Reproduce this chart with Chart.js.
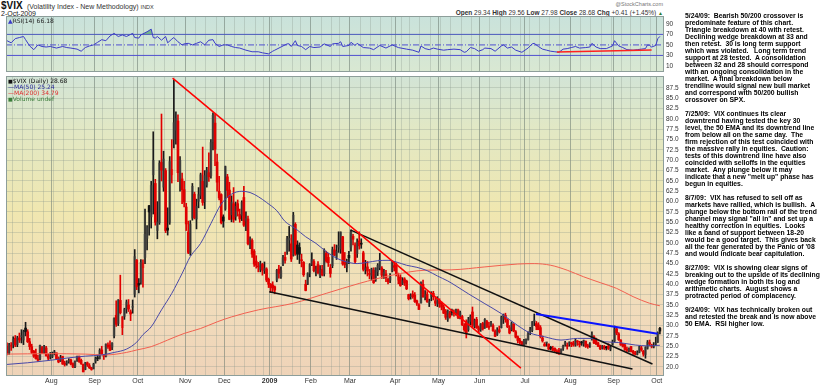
<!DOCTYPE html>
<html>
<head>
<meta charset="utf-8">
<script src="https://cdn.jsdelivr.net/npm/chart.js@4.4.1/dist/chart.umd.min.js"></script>
<style>
  body { margin: 0; background: #fff; font-family: "Liberation Sans", Arial, sans-serif; }
  #wrap { position: relative; width: 820px; height: 386px; overflow: hidden; }
  canvas { position: absolute; left: 0; }
  #rsiCanvas { top: 16px; }
  #priceCanvas { top: 76px; }
  .t { position: absolute; white-space: nowrap; color: #111; line-height: 1; }
  .leg { position: absolute; font-family: "DejaVu Sans", sans-serif; font-size: 6px; line-height: 6px; white-space: nowrap; z-index: 2; }
  #notes { position: absolute; left: 685px; top: 12px; font-weight: bold; font-size: 6.8px; line-height: 7px; white-space: pre; color: #000; }
</style>
</head>
<body>
<div id="wrap">
  <div class="t" style="left:1px;top:1px;font-size:10px;font-weight:bold">$VIX</div>
  <div class="t" style="left:27px;top:2.5px;font-size:7px;color:#333">(Volatility Index - New Methodology) <span style="font-size:5.5px">INDX</span></div>
  <div class="t" style="left:1px;top:10px;font-size:7px;color:#222">2-Oct-2009</div>
  <div class="t" style="right:157px;top:2px;font-size:5.5px;color:#777">@StockCharts.com</div>
  <div class="t" style="right:157px;top:9.5px;font-size:6.5px;color:#333"><b>Open</b> 29.34 <b>High</b> 29.56 <b>Low</b> 27.98 <b>Close</b> 28.68 <b>Chg</b> +0.41 (+1.45%) <span style="font-size:5px;color:#2a7a2a">&#9650;</span></div>

  <canvas id="rsiCanvas" width="690" height="56"></canvas>
  <canvas id="priceCanvas" width="690" height="310"></canvas>

  <div class="leg" style="left:8px;top:18px;color:#222"><span style="color:#3a3ac8">&#9650;</span>RSI(14) 66.18</div>
  <div class="leg" style="left:8px;top:78px">
    <div style="color:#111"><span style="font-size:5px">&#9632;</span>$VIX (Daily) 28.68</div>
    <div style="color:#2b2b9a">&#8212;MA(50) 25.24</div>
    <div style="color:#e03030">&#8212;MA(200) 34.79</div>
    <div style="color:#3b7d3b"><span style="font-size:5px">&#9632;</span>Volume undef</div>
  </div>

  <div id="notes">5/24/09:  Bearish 50/200 crossover is
predominate feature of this chart.
Triangle breakdown at 40 with retest.
Declining wedge breakdown at 33 and
then retest.  30 is long term support
which was violated.   Long term trend
support at 28 tested.  A consolidation
between 32 and 28 should correspond
with an ongoing consolidation in the
market.  A final breakdown below
trendline would signal new bull market
and correspond with 50/200 bullish
crossover on SPX.

7/25/09:  VIX continues its clear
downtrend having tested the key 30
level, the 50 EMA and its downtrend line
from below all on the same day.  The
firm rejection of this test coincided with
the massive rally in equities.  Caution:
tests of this downtrend line have also
coincided with selloffs in the equities
market.  Any plunge below it may
indicate that a new "melt up" phase has
begun in equities.

8/7/09:  VIX has refused to sell off as
markets have rallied, which is bullish.  A
plunge below the bottom rail of the trend
channel may signal "all in" and set up a
healthy correction in equities.  Looks
like a band of support between 18-20
would be a good target.  This gives back
all the fear generated by the Panic of '08
and would indicate bear capitulation.

8/27/09:  VIX is showing clear signs of
breaking out to the upside of its declining
wedge formation in both its log and
arithmetic charts.  August shows a
protracted period of complacency.

9/24/09:  VIX has technically broken out
and retested the break and is now above
50 EMA.  RSI higher low.</div>
</div>

<script>
// Daily candles [open, high, low, close], one array per month
const jul08 = [[25.0,25.8,22.9,23.4],[23.4,25.7,23.0,25.3],[25.0,25.9,24.0,25.1],[25.3,27.3,24.6,26.7],[26.9,27.6,24.9,25.3],[25.4,27.4,24.9,27.0],[27.0,28.2,25.9,26.5],[27.3,29.0,25.8,27.5],[26.5,28.9,25.4,28.5],[29.4,30.8,27.5,28.5],[28.5,29.0,25.9,26.1],[26.1,26.9,24.2,24.9],[24.9,25.5,23.2,23.5],[23.8,24.0,22.3,22.6],[23.2,24.3,21.9,22.0],[21.9,22.8,21.3,21.6],[21.9,25.3,21.7,25.2],[24.7,25.0,23.2,23.4],[23.5,25.2,23.2,25.0],[24.6,25.0,22.6,22.7],[22.6,23.1,21.6,22.1],[22.4,23.5,21.9,22.9]];
const aug08 = [[22.5,23.6,22.2,23.1],[23.4,24.0,22.9,23.5],[23.4,23.4,21.8,22.0],[22.0,22.4,21.0,21.2],[21.5,22.8,21.3,22.3],[22.5,22.6,20.6,20.7],[20.9,21.4,20.2,20.6],[20.7,21.5,20.4,21.2],[21.3,22.0,20.9,21.6],[21.7,21.9,20.5,20.7],[20.8,21.0,19.8,20.0],[20.0,21.5,19.8,21.3],[21.6,22.6,21.3,22.5],[22.6,22.6,21.1,21.3],[21.6,21.9,20.6,20.8],[20.6,20.7,18.8,18.8],[19.4,21.1,19.3,21.0],[21.0,21.2,20.1,20.5],[20.3,20.8,19.6,19.8],[19.8,19.9,19.2,19.4],[19.6,20.9,19.5,20.65]];
const sep08 = [[21.4,22.4,20.9,22.0],[22.0,22.8,21.5,22.0],[22.0,24.4,21.9,24.0],[24.1,25.0,23.0,23.1],[22.9,23.0,21.8,22.6],[22.6,25.6,22.4,25.5],[25.3,25.8,24.5,24.9],[25.3,26.3,23.9,24.0],[24.8,25.9,24.2,25.7],[27.5,31.9,27.0,31.7],[32.5,36.0,29.8,30.3],[30.5,36.3,30.0,36.2],[36.1,42.2,32.8,33.1],[29.5,32.2,27.8,32.1],[32.2,34.2,31.5,33.9],[34.0,36.2,33.0,35.7],[35.0,36.3,33.4,34.0],[33.3,33.8,31.2,32.8],[34.4,36.2,33.0,34.7],[37.6,48.4,36.9,46.7],[45.8,46.0,38.7,39.4]];
const oct08 = [[40.2,41.4,37.9,39.8],[40.5,46.0,40.0,45.3],[44.0,45.9,39.3,45.1],[46.5,58.2,45.0,52.1],[51.1,54.2,48.3,53.7],[59.0,59.1,51.9,57.5],[56.3,64.9,53.6,63.9],[66.5,76.9,57.0,70.0],[64.4,65.4,54.3,55.0],[53.0,60.0,51.0,55.1],[54.9,69.9,54.5,69.3],[69.5,81.2,65.0,67.6],[63.5,72.2,62.5,70.3],[67.5,68.0,52.5,53.0],[53.6,58.5,51.9,53.1],[55.0,70.9,54.5,69.7],[66.5,75.0,64.5,67.8],[75.0,89.5,73.0,79.1],[77.3,81.7,73.9,80.1],[79.5,81.0,64.8,67.0],[65.4,70.9,62.5,70.0],[65.5,66.9,59.5,62.9],[62.9,64.9,58.7,59.9]];
const nov08 = [[58.7,59.6,53.0,54.6],[52.6,55.3,47.4,47.7],[47.5,55.4,47.0,54.6],[56.0,64.4,55.5,63.7],[61.8,62.3,55.8,56.1],[55.8,60.6,53.4,58.9],[60.1,63.4,58.5,61.7],[61.5,66.9,60.7,66.5],[64.9,73.2,59.1,59.8],[60.0,67.5,58.3,66.3],[64.0,68.3,63.5,67.6],[67.0,71.8,64.9,66.0],[66.3,75.0,65.7,74.3],[74.5,81.5,72.5,80.9],[79.0,81.1,68.7,72.7],[69.6,71.5,62.5,64.7],[62.5,66.1,60.4,60.9],[61.7,61.9,54.6,54.9],[56.3,56.8,53.8,55.3]];
const dec08 = [[58.2,68.6,57.9,68.5],[66.0,66.6,61.0,62.7],[62.8,64.7,55.6,55.7],[56.8,61.4,55.1,59.9],[59.5,63.4,55.0,55.7],[56.3,59.9,55.5,58.9],[59.5,60.4,56.5,57.7],[56.9,58.2,55.0,55.8],[56.7,60.2,55.4,59.8],[61.0,63.7,54.0,54.3],[55.3,57.5,53.0,56.0],[55.8,56.5,49.5,49.8],[50.7,51.5,48.6,51.0],[50.6,51.0,46.5,47.3],[48.0,48.4,44.3,44.9],[45.6,46.9,43.9,44.6],[44.3,45.3,43.0,44.2],[43.6,45.6,43.0,45.0],[44.8,45.1,42.2,43.4],[43.3,45.4,42.6,43.9],[43.7,44.0,40.6,41.0],[41.2,41.5,39.2,40.0]];
const jan09 = [[40.0,40.2,38.0,39.2],[39.8,40.6,38.2,39.1],[39.4,39.6,37.7,38.6],[41.0,43.6,40.6,43.4],[43.7,44.6,41.5,42.6],[41.8,44.2,41.4,43.3],[44.9,47.0,44.5,46.4],[46.5,47.8,45.1,45.8],[47.9,51.6,47.2,51.0],[50.7,54.0,48.0,51.1],[49.8,52.0,45.5,46.1],[47.0,57.4,46.8,56.7],[54.5,54.9,47.0,47.3],[49.5,50.5,46.0,47.3],[48.9,50.0,45.0,47.3],[45.8,47.3,44.2,45.7],[45.3,45.5,41.9,42.3],[40.0,41.0,38.4,38.5],[40.0,42.8,39.9,42.6],[42.7,45.0,41.8,44.8]];
const feb09 = [[44.8,47.6,44.5,46.0],[45.5,46.0,43.0,43.3],[43.0,44.4,42.0,43.6],[44.8,45.5,42.5,42.8],[42.1,44.5,41.6,43.4],[43.6,44.6,42.0,42.3],[42.5,48.6,42.0,48.3],[47.5,48.0,45.3,45.6],[46.5,47.5,44.3,45.2],[44.0,44.8,41.7,42.6],[44.5,49.0,44.0,48.4],[48.3,49.6,46.9,47.1],[46.5,49.5,46.0,48.0],[49.0,52.7,47.7,49.3],[48.5,52.7,47.5,52.6],[51.5,51.6,44.6,44.9],[45.5,47.7,44.0,44.7],[44.0,46.1,43.0,45.6],[47.0,48.0,45.0,46.4]];
const mar09 = [[49.0,53.2,48.0,52.6],[51.6,52.1,49.5,50.9],[49.5,50.0,45.0,45.5],[47.4,51.0,46.5,50.2],[50.5,52.7,48.5,49.3],[49.8,51.0,48.7,49.7],[47.6,48.0,43.2,43.6],[43.5,45.8,42.5,44.0],[44.2,45.5,42.0,43.2],[42.5,43.6,41.3,42.4],[42.0,43.9,41.0,43.7],[43.4,44.0,40.2,40.4],[41.0,44.0,40.7,43.9],[43.0,45.0,42.1,44.6],[44.0,47.5,43.5,45.9],[43.9,44.3,41.4,42.2],[42.0,43.6,41.4,42.9],[42.5,43.4,40.6,41.6],[41.2,41.5,40.1,40.6],[41.0,42.6,40.4,41.8],[43.2,45.6,43.0,45.5],[44.5,45.5,43.2,44.1]];
const apr09 = [[44.7,45.2,42.0,42.3],[41.0,42.7,40.1,42.0],[41.7,42.3,39.5,39.7],[40.0,41.6,39.9,40.9],[41.3,41.6,39.7,40.4],[40.8,41.0,38.7,38.9],[37.5,37.6,36.2,36.5],[37.0,37.7,36.4,37.1],[37.6,38.4,36.6,37.0],[37.4,38.0,35.6,35.8],[36.0,36.2,34.9,35.4],[35.0,35.3,33.9,33.9],[35.5,40.6,35.4,40.4],[40.0,41.0,36.8,37.0],[37.0,38.5,36.2,37.4],[37.6,38.2,35.6,35.8],[35.5,36.4,34.6,35.8],[37.0,38.2,36.0,37.9],[37.8,38.3,36.2,37.0],[36.0,36.9,34.8,35.4],[35.2,37.0,34.6,36.5]];
const may09 = [[36.0,36.5,34.4,35.3],[35.5,35.7,33.8,34.5],[34.5,35.0,32.9,33.0],[33.5,33.9,31.5,32.0],[31.5,33.8,31.0,33.6],[33.0,33.5,31.8,32.1],[33.6,34.0,32.5,33.2],[33.0,33.8,32.3,33.0],[33.2,34.0,32.5,33.6],[33.8,34.0,31.7,32.0],[32.0,33.5,31.6,33.1],[32.2,32.5,30.0,30.2],[30.0,30.5,28.6,29.0],[31.0,31.4,27.0,28.2],[29.0,32.0,28.6,31.4],[31.0,32.6,30.2,32.2],[33.3,34.5,29.6,30.1],[29.8,31.6,29.4,31.3],[31.5,32.0,29.3,29.5],[29.5,29.9,28.2,28.9]];
const jun09 = [[29.0,30.5,28.6,30.3],[30.5,30.8,28.9,29.2],[29.5,31.7,29.3,31.5],[31.0,31.3,29.5,29.8],[29.6,30.8,29.1,29.6],[30.0,31.0,29.8,30.5],[30.0,30.4,28.6,28.8],[28.6,29.0,27.3,27.4],[27.8,29.5,27.6,28.9],[29.0,29.9,28.2,28.5],[29.5,32.3,29.4,32.0],[31.5,32.8,30.5,32.7],[32.5,33.0,30.8,31.5],[31.4,31.6,29.5,29.7],[29.5,30.0,28.0,28.2],[29.0,30.9,28.7,30.5],[30.3,30.5,28.5,28.7],[28.5,28.8,27.0,27.2],[27.3,27.5,25.8,26.4],[26.5,26.9,25.5,25.9],[26.0,26.2,25.3,25.4],[25.4,26.7,25.2,26.4]];
const jul09 = [[26.0,26.8,25.5,26.4],[26.6,28.5,26.5,28.0],[28.5,29.6,27.8,29.0],[28.8,31.0,28.5,30.9],[31.0,32.8,30.0,31.3],[30.5,31.0,29.0,29.8],[30.2,30.7,29.0,29.0],[29.5,30.0,27.0,27.4],[27.0,27.5,26.0,26.3],[25.5,25.9,25.0,25.1],[25.8,26.0,25.0,25.9],[25.5,25.6,24.2,24.3],[24.7,25.0,24.1,24.4],[24.5,25.0,23.8,24.0],[24.5,24.6,23.6,23.9],[23.8,24.2,23.2,23.4],[24.0,24.5,23.1,23.1],[23.5,24.4,23.3,24.3],[24.5,25.3,24.0,25.0],[25.5,26.2,25.0,25.9],[25.0,25.8,24.3,25.0],[25.5,26.1,25.0,25.9]];
const aug09 = [[25.7,26.0,24.9,25.6],[25.8,26.2,25.0,25.3],[25.3,26.8,25.0,26.4],[26.0,26.4,25.2,26.0],[25.5,26.2,24.8,25.4],[25.8,26.2,25.2,25.8],[25.5,26.5,25.0,26.4],[26.2,26.3,24.7,25.0],[25.0,25.5,24.5,24.9],[25.2,25.9,24.7,25.6],[26.8,28.5,26.5,27.8],[27.3,27.6,25.6,25.8],[26.8,27.0,25.4,25.6],[25.8,26.0,24.9,25.0],[25.1,25.3,24.2,24.4],[24.5,25.2,24.3,25.0],[25.0,25.2,24.2,24.5],[24.6,25.0,24.1,24.6],[25.0,25.6,24.2,24.5],[24.3,25.0,23.9,24.8],[25.5,26.5,25.3,26.0]];
const sep09 = [[26.3,29.9,26.0,29.2],[29.2,29.6,27.8,28.2],[28.0,28.3,26.4,26.6],[26.5,26.6,25.2,25.3],[25.5,25.7,24.8,25.0],[25.3,25.5,24.0,24.2],[24.3,24.8,23.7,24.0],[24.0,24.6,23.6,24.1],[24.9,25.0,23.6,23.7],[23.8,24.0,23.0,23.4],[23.4,23.8,22.9,23.1],[23.0,23.9,22.9,23.5],[23.5,25.0,23.4,24.9],[24.6,25.0,23.8,24.1],[23.8,24.0,22.6,23.1],[23.0,24.9,22.1,24.7],[24.5,26.4,24.3,26.0],[25.9,26.5,25.1,25.6],[25.3,25.5,24.6,25.0],[24.8,25.9,24.6,25.2],[25.5,27.2,25.2,25.6]];
const oct09 = [[26.0,28.5,25.9,28.27],[29.34,29.56,27.98,28.68]];

// Trading calendar (category axis)
const firstDay = '2008-07-01';
const lastDay = '2009-10-02';
const holidays = ['2008-07-04','2008-09-01','2008-11-27','2008-12-25','2009-01-01','2009-01-19','2009-02-16','2009-04-10','2009-05-25','2009-07-03','2009-09-07'];
const monthNames = ['Jan','Feb','Mar','Apr','May','Jun','Jul','Aug','Sep','Oct','Nov','Dec'];

// Overlays: [day index, value]
const ma50 = [[0,20.6],[10,21.0],[21,21.6],[30,22.2],[38,22.6],[46,22.9],[52,23.5],[58,24.3],[63,26.0],[66,27.8],[70,29.7],[75,33.8],[80,37.8],[85,42.6],[89,46.7],[94,49.9],[99,54.7],[104,59.4],[109,61.8],[114,62.5],[118,62.2],[122,61.2],[126,59.8],[131,57.8],[135,55.2],[140,53.5],[145,51.5],[150,49.9],[155,47.9],[160,46.3],[165,45.4],[170,45.0],[175,45.3],[180,45.7],[185,45.8],[189,45.4],[194,44.6],[199,44.1],[204,43.3],[209,42.0],[214,40.8],[218,39.6],[224,37.7],[232,35.3],[240,32.9],[248,30.0],[254,28.2],[261,27.3],[269,26.5],[277,26.9],[284,26.9],[290,26.1],[297,25.9],[305,25.3],[311,25.1],[317,25.24]];
const ma200 = [[0,23.1],[20,23.2],[38,23.1],[48,22.9],[58,23.5],[63,24.1],[70,24.9],[78,26.5],[86,28.1],[94,29.3],[102,30.9],[109,32.1],[122,33.8],[139,35.4],[155,37.8],[171,40.2],[187,42.2],[203,43.4],[216,43.5],[232,44.2],[248,44.9],[256,45.0],[264,44.6],[272,43.4],[280,41.8],[288,40.4],[296,39.0],[304,37.0],[312,35.4],[317,34.79]];
const rsi14 = [[0,58],[2,54],[4,62],[6,64],[8,66],[9,60],[11,48],[13,41],[15,50],[17,47],[19,46],[21,47],[24,44],[27,47],[29,45],[31,44],[34,42],[36,38],[38,45],[40,48],[42,50],[44,55],[46,60],[48,58],[50,67],[52,72],[53,69],[54,66],[56,69],[58,66],[60,70],[61,72],[62,64],[64,63],[65,69],[67,73],[68,75],[70,80],[71,64],[72,63],[73,66],[75,59],[77,66],[78,54],[80,61],[81,64],[83,56],[85,50],[86,52],[88,53],[90,50],[92,53],[94,56],[96,50],[98,59],[100,60],[101,53],[103,47],[105,50],[107,50],[109,47],[111,45],[113,44],[116,40],[119,37],[122,37],[124,35],[127,33],[129,38],[130,40],[133,46],[136,52],[137,52],[138,47],[140,58],[141,49],[143,47],[145,41],[147,47],[149,45],[152,46],[154,52],[157,47],[158,52],[161,53],[162,56],[163,47],[166,49],[167,55],[169,49],[170,53],[173,45],[176,44],[178,41],[181,49],[184,44],[187,50],[190,45],[194,42],[197,40],[200,36],[201,48],[203,43],[205,41],[207,44],[209,42],[212,40],[214,41],[217,42],[220,41],[222,36],[223,37],[225,45],[227,43],[229,38],[231,41],[232,44],[235,43],[237,38],[240,48],[241,50],[243,44],[245,46],[247,40],[250,36],[253,44],[255,52],[256,53],[258,47],[260,42],[262,40],[264,38],[266,37],[268,36],[270,42],[272,43],[274,45],[276,47],[278,44],[281,45],[283,46],[284,53],[286,46],[288,43],[291,43],[294,48],[295,58],[297,48],[299,45],[301,41],[304,40],[306,41],[308,42],[310,43],[311,50],[312,49],[313,46],[315,49],[316,62],[317,66.18]];
const rsiLevels = [70, 50, 30];

// Hand-drawn trendlines: [day index, value]
const peakTrend = [[80.4,89.9],[249.5,19.7]];
const upperWedge = [[166.9,53.1],[313.4,20.7]];
const lowerWedge = [[127.3,38.2],[303.7,19.5]];
const breakoutLine = [[256.8,32.8],[315.9,28.0]];
const rsiSupport = [[267,36.5],[313,40.5]];

// Axis ticks
const priceTicks = [20,22.5,25,27.5,30,32.5,35,37.5,40,42.5,45,47.5,50,52.5,55,57.5,60,62.5,65,67.5,70,72.5,75,77.5,80,82.5,85,87.5];
const rsiTicks = [10,30,50,70,90];

const FONT = '"Liberation Sans", Arial, sans-serif';

// ---- build ----
const candles = [jul08, aug08, sep08, oct08, nov08, dec08, jan09, feb09, mar09, apr09, may09, jun09, jul09, aug09, sep09, oct09].flat();

function tradingDays(from, to, skip) {
    const out = [];
    const d = new Date(from + 'T00:00:00Z');
    const end = new Date(to + 'T00:00:00Z');
    while (d <= end) {
        const iso = d.toISOString().slice(0, 10);
        const wd = d.getUTCDay();
        if (wd !== 0 && wd !== 6 && !skip.includes(iso)) out.push(new Date(d));
        d.setUTCDate(d.getUTCDate() + 1);
    }
    return out;
}
const days = tradingDays(firstDay, lastDay, holidays);
if (days.length !== candles.length) console.warn('calendar mismatch', days.length, candles.length);

// month lines (labelled) and week lines
const xTicks = [];
days.forEach((d, i) => {
    if (i === 0) return;
    const p = days[i - 1];
    if (d.getUTCMonth() !== p.getUTCMonth()) {
        const m = d.getUTCMonth();
        xTicks.push({ value: i - 0.5, major: true, label: m === 0 ? String(d.getUTCFullYear()) : monthNames[m] });
    } else if (d.getUTCDay() < p.getUTCDay()) {
        xTicks.push({ value: i - 0.5, major: false, label: '' });
    }
});

const pts = arr => arr.map(([x, y]) => ({ x, y }));

function candleColor(i, solid) {
    const [o, , , c] = candles[i];
    const prev = i > 0 ? candles[i - 1][3] : o;
    const up = c >= prev;
    const hollow = c > o;
    if (solid) return up ? '#1a1a1a' : '#e00000';
    if (up) return hollow ? 'rgba(70,70,70,0.6)' : '#111';
    return hollow ? 'rgba(230,0,0,0.55)' : '#e00000';
}

const panelBg = {
    id: 'panelBg',
    beforeDraw(chart, args, opts) {
        const { ctx, chartArea: a } = chart;
        const g = ctx.createLinearGradient(0, a.top, 0, a.bottom);
        opts.stops.forEach(([p, c]) => g.addColorStop(p, c));
        ctx.save();
        ctx.fillStyle = g;
        ctx.fillRect(a.left, a.top, a.right - a.left, a.bottom - a.top);
        ctx.restore();
    },
    afterDraw(chart) {
        const { ctx, chartArea: a } = chart;
        ctx.save();
        ctx.strokeStyle = '#8d9e9a';
        ctx.lineWidth = 1;
        ctx.strokeRect(a.left + 0.5, a.top + 0.5, a.right - a.left - 1, a.bottom - a.top - 1);
        ctx.restore();
    }
};

function xScale(showLabels) {
    return {
        type: 'linear', min: -0.5, max: 319, offset: false,
        afterBuildTicks: s => { s.ticks = xTicks.map(t => ({ value: t.value, major: t.major })); },
        afterFit: s => { s.height = showLabels ? 10 : 0; s.paddingLeft = 0; s.paddingRight = 0; },
        grid: {
            offset: false, drawTicks: false, lineWidth: 1,
            color: c => c.tick && c.tick.major ? 'rgba(105,120,112,0.55)' : 'rgba(135,150,140,0.3)'
        },
        border: { display: false },
        ticks: {
            display: showLabels, autoSkip: false, maxRotation: 0, padding: 1, color: '#333',
            font: c => ({ family: FONT, size: 7, weight: c.tick && c.tick.label === '2009' ? 'bold' : 'normal' }),
            callback: (v, i) => xTicks[i] ? xTicks[i].label : ''
        }
    };
}

function yScale(min, max, ticks, fmt, showGrid) {
    return {
        position: 'right', min, max, beginAtZero: false,
        afterBuildTicks: s => { s.ticks = ticks.map(v => ({ value: v })); },
        afterFit: s => { s.width = 26; s.paddingTop = 0; s.paddingBottom = 0; },
        grid: { display: showGrid, drawTicks: false, color: 'rgba(135,150,140,0.3)' },
        border: { display: false },
        ticks: { padding: 2, color: '#333', font: { family: FONT, size: 6.5 }, callback: fmt }
    };
}

const common = {
    responsive: false,
    animation: false,
    events: [],
    layout: { padding: { left: 6, right: 0, top: 0, bottom: 0 } },
    elements: { point: { radius: 0 } }
};

// RSI panel
new Chart(document.getElementById('rsiCanvas').getContext('2d'), {
    type: 'line',
    data: {
        datasets: [
            { data: pts(rsiSupport), borderColor: '#ff2020', borderWidth: 1.5, order: 0 },
            {
                data: pts(rsi14), borderColor: '#3c3cc8', borderWidth: 1, order: 1,
                fill: { target: { value: 70 }, above: 'rgba(60,150,90,0.6)', below: 'rgba(0,0,0,0)' }
            },
            ...rsiLevels.map(v => ({
                data: [{ x: -0.5, y: v }, { x: 319, y: v }],
                borderColor: '#5050d0', borderWidth: 1, order: 2,
                borderDash: v === 50 ? [6, 2, 1, 2] : []
            }))
        ]
    },
    plugins: [panelBg],
    options: {
        ...common,
        plugins: {
            legend: { display: false }, tooltip: { enabled: false },
            panelBg: { stops: [[0, '#c9e2db'], [1, '#d9e8d2']] }
        },
        scales: {
            x: xScale(false),
            y: yScale(-1.5, 105, rsiTicks, v => String(v), false)
        }
    }
});

// Price panel
new Chart(document.getElementById('priceCanvas').getContext('2d'), {
    type: 'bar',
    data: {
        datasets: [
            { type: 'line', data: pts(breakoutLine), borderColor: '#0a14ff', borderWidth: 2, order: 0 },
            { type: 'line', data: pts(peakTrend), borderColor: '#ff0000', borderWidth: 1.5, order: 0 },
            { type: 'line', data: pts(upperWedge), borderColor: '#111', borderWidth: 1.5, order: 0 },
            { type: 'line', data: pts(lowerWedge), borderColor: '#111', borderWidth: 1.5, order: 0 },
            { type: 'line', data: pts(ma50), borderColor: '#4848a8', borderWidth: 1, cubicInterpolationMode: 'monotone', order: 1 },
            { type: 'line', data: pts(ma200), borderColor: '#f26050', borderWidth: 1, cubicInterpolationMode: 'monotone', order: 1 },
            {
                data: candles.map(([o, , , c], i) => ({ x: i, y: [Math.min(o, c), Math.max(o, c)] })),
                backgroundColor: candles.map((_, i) => candleColor(i, false)),
                barThickness: 2, minBarLength: 1, grouped: false, borderWidth: 0, order: 2
            },
            {
                data: candles.map(([, h, l], i) => ({ x: i, y: [l, h] })),
                backgroundColor: candles.map((_, i) => candleColor(i, true)),
                barThickness: 1, grouped: false, borderWidth: 0, order: 3
            }
        ]
    },
    plugins: [panelBg],
    options: {
        ...common,
        plugins: {
            legend: { display: false }, tooltip: { enabled: false },
            panelBg: { stops: [[0, '#d2e4d6'], [0.18, '#e2e8c4'], [0.45, '#f0e7b0'], [0.75, '#f1ddbc'], [1, '#efd3b8']] }
        },
        scales: {
            x: xScale(true),
            y: yScale(17.8, 90.4, priceTicks, v => v.toFixed(1), true)
        }
    }
});
</script>
</body>
</html>
